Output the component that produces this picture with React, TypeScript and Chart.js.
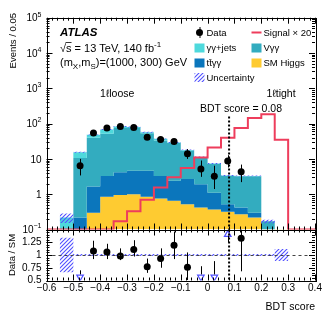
import React, { useEffect, useRef } from 'react';
import { Chart, registerables } from 'chart.js';

Chart.register(...registerables);

// ---------------- data ----------------
const xMin = -0.6;
const xMax = 0.4;
const binWidth = 0.05;
const cutValue = 0.08;

const smHiggs = [0, 0, 0, 0.3, 0.85, 0.95, 1.0, 0.85, 0.75, 0.65, 0.52, 0.42, 0.37, 0.32, 0.27, 0.22, 0, 0, 0, 0];
const ttyy = [0, 0, 0.22, 1.35, 2.45, 3.25, 3.6, 3.75, 2.55, 1.75, 2.18, 1.48, 0.73, 0.2, 0.15, 0.08, 0, 0, 0, 0];
const vyy = [0, 0, 10.3, 38.3, 48.7, 70.8, 70.4, 48.4, 29.7, 25.6, 14.3, 9.1, 6.1, 2.8, 2.8, 2.9, 0.17, 0, 0, 0];
const yyJets = [0, 0.22, 5.0, 8, 16, 8, 5, 4, 4, 1, 1, 0.3, 0.2, 0.08, 0.08, 0.1, 0, 0, 0, 0];
const signalX20 = [0, 0, 0, 0, 0, 0.17, 0.33, 0.7, 1.55, 3.0, 5.5, 11, 21, 40, 75, 145, 185, 35, 0, 0];
const uncRelMain = [0, 0.3, 0.03, 0.03, 0.03, 0.03, 0.03, 0.03, 0.03, 0.03, 0.03, 0.03, 0.03, 0.03, 0.03, 0.03, 0.12, 0, 0, 0];

const dataValues = [null, null, 6.4, 54, 75, 83, 77, 41, 35.5, 31, 14, 5.2, 3.2, 8.7, 4.3, null, null, null, null, null];
const dataErrDown = [0, 0, 3.0, 7, 8.5, 9, 8.5, 6.4, 6, 5.5, 4, 2.1, 1.8, 3, 2.1, 0, 0, 0, 0, 0];
const dataErrUp = [0, 0, 3.6, 7, 8.5, 9, 8.5, 6.4, 6, 5.5, 5, 3.8, 3.2, 4, 2.6, 0, 0, 0, 0, 0];

const ratioValues = [null, null, null, 1.08, 1.06, 0.98, 1.11, 0.77, 0.93, 1.19, 0.76, null, null, null, 1.33, null, null, null, null, null];
const ratioLow = [null, null, 0.62, 0.92, 0.92, 0.9, 0.97, 0.65, 0.75, 0.92, 0.51, 0.62, 0.62, 1.25, 0.68, null, null, null, null, null];
const ratioHigh = [null, null, 0.7, 1.28, 1.22, 1.13, 1.29, 0.93, 1.13, 1.46, 1.05, 0.78, 0.88, 1.38, 1.5, null, null, null, null, null];
const ratioArrows = [0, 0, -1, 0, 0, 0, 0, 0, 0, 0, 0, -1, -1, 1, 0, 0, 0, 0, 0, 0];
const ratioUnc = [0, 0.34, 0.02, 0.02, 0.02, 0.02, 0.02, 0.02, 0.02, 0.02, 0.02, 0.02, 0.02, 0.02, 0.02, 0.02, 0.02, 0.12, 0, 0];

const yMainTicks = [0.1, 1, 10, 100, 1000, 10000, 100000];
const yMainLabelBase = ['10', '1', '10', '10', '10', '10', '10'];
const yMainLabelExp = ['\u22121', '', '', '2', '3', '4', '5'];
const xTicks = [-0.6, -0.5, -0.4, -0.3, -0.2, -0.1, 0, 0.1, 0.2, 0.3, 0.4];
const xTickLabels = ['\u22120.6', '\u22120.5', '\u22120.4', '\u22120.3', '\u22120.2', '\u22120.1', '0', '0.1', '0.2', '0.3', '0.4'];
const yRatioTicks = [0.5, 0.75, 1, 1.25];
const yRatioLabels = ['0.5', '0.75', '1', '1.25'];

// ---------------- style ----------------
const FONT = '"Liberation Sans", Arial, Helvetica, sans-serif';
const C_JETS = '#4ed9dc';
const C_VYY = '#33acbf';
const C_TT = '#0b76bc';
const C_HIGGS = '#fecb31';
const C_SIG = '#ee3d5c';
const C_UNC = '#5050ff';
const TICK_SIZE = 10;

const nBins = smHiggs.length;
const edges = Array.from({ length: nBins + 1 }, (_, i) => xMin + i * binWidth);
const centers = edges.slice(0, nBins).map((e) => e + binWidth / 2);

function stepData(vals: number[], floor: number) {
  const pts = vals.map((v, i) => ({ x: edges[i], y: Math.max(v, floor) }));
  pts.push({ x: edges[nBins], y: Math.max(vals[nBins - 1], floor) });
  return pts;
}

function makeHatch(color: string) {
  const s = 4;
  const c = document.createElement('canvas');
  c.width = s;
  c.height = s;
  const g = c.getContext('2d')!;
  g.strokeStyle = color;
  g.lineWidth = 1.1;
  g.beginPath();
  g.moveTo(0, s);
  g.lineTo(s, 0);
  g.moveTo(-s / 2, s / 2);
  g.lineTo(s / 2, -s / 2);
  g.moveTo(s / 2, s * 1.5);
  g.lineTo(s * 1.5, s / 2);
  g.stroke();
  return g.createPattern(c, 'repeat')!;
}

type Part = [string, number];
function drawRich(ctx: CanvasRenderingContext2D, parts: Part[], x: number, y: number, size: number, style = '', align = 'left') {
  const fontFor = (k: number) => `${style} ${k === 0 ? size : Math.round(size * 0.72)}px ${FONT}`;
  let total = 0;
  const widths = parts.map(([t, k]) => {
    ctx.font = fontFor(k);
    const w = ctx.measureText(t).width;
    total += w;
    return w;
  });
  let cx = align === 'left' ? x : align === 'center' ? x - total / 2 : x - total;
  ctx.textAlign = 'left';
  ctx.textBaseline = 'alphabetic';
  parts.forEach(([t, k], i) => {
    ctx.font = fontFor(k);
    ctx.fillText(t, cx, y + (k === 1 ? -size * 0.42 : k === -1 ? size * 0.25 : 0));
    cx += widths[i];
  });
  return total;
}

function drawFrameTicks(chart: any, yMajor: number[], yMinor: number[]) {
  const { ctx, chartArea: a, scales } = chart;
  const x = scales.x;
  const y = scales.y;
  ctx.save();
  ctx.strokeStyle = '#000';
  ctx.lineWidth = 1;
  ctx.beginPath();
  const majL = 6;
  const minL = 3;
  for (let k = 0; k <= 50; k++) {
    const v = xMin + k * 0.02;
    const px = Math.round(x.getPixelForValue(v)) + 0.5;
    const L = k % 5 === 0 ? majL : minL;
    ctx.moveTo(px, a.bottom);
    ctx.lineTo(px, a.bottom - L);
    ctx.moveTo(px, a.top);
    ctx.lineTo(px, a.top + L);
  }
  const tickY = (v: number, L: number) => {
    const py = Math.round(y.getPixelForValue(v)) + 0.5;
    ctx.moveTo(a.left, py);
    ctx.lineTo(a.left + L, py);
    ctx.moveTo(a.right, py);
    ctx.lineTo(a.right - L, py);
  };
  yMajor.forEach((v) => tickY(v, majL));
  yMinor.forEach((v) => tickY(v, minL));
  ctx.stroke();
  ctx.strokeRect(Math.round(a.left) + 0.5, Math.round(a.top) + 0.5, Math.round(a.right - a.left), Math.round(a.bottom - a.top));
  ctx.restore();
}

function drawCut(chart: any, yTopVal: number | null) {
  const { ctx, chartArea: a, scales } = chart;
  const px = scales.x.getPixelForValue(cutValue);
  const top = yTopVal === null ? a.top : scales.y.getPixelForValue(yTopVal);
  ctx.save();
  ctx.strokeStyle = '#000';
  ctx.lineWidth = 2;
  ctx.setLineDash([2, 2]);
  ctx.beginPath();
  ctx.moveTo(px, top);
  ctx.lineTo(px, a.bottom);
  ctx.stroke();
  ctx.restore();
}

function drawErrBars(chart: any, lo: (number | null)[], hi: (number | null)[]) {
  const { ctx, chartArea: a, scales } = chart;
  ctx.save();
  ctx.beginPath();
  ctx.rect(a.left, a.top, a.right - a.left, a.bottom - a.top);
  ctx.clip();
  ctx.strokeStyle = '#000';
  ctx.lineWidth = 1;
  ctx.beginPath();
  centers.forEach((c, i) => {
    if (lo[i] === null || hi[i] === null) return;
    const px = Math.round(scales.x.getPixelForValue(c)) + 0.5;
    ctx.moveTo(px, scales.y.getPixelForValue(lo[i]));
    ctx.lineTo(px, scales.y.getPixelForValue(hi[i]));
  });
  ctx.stroke();
  ctx.restore();
}

export default function App() {
  const mainRef = useRef<HTMLCanvasElement>(null);
  const ratioRef = useRef<HTMLCanvasElement>(null);

  useEffect(() => {
    const hatch = makeHatch(C_UNC);
    const floor = 1e-4;
    const cH = smHiggs;
    const cT = cH.map((v, i) => v + ttyy[i]);
    const cV = cT.map((v, i) => v + vyy[i]);
    const cJ = cV.map((v, i) => v + yyJets[i]);
    const uncUp = cJ.map((v, i) => (v > 0 ? v * (1 + uncRelMain[i]) : 0));
    const uncDn = cJ.map((v, i) => (v > 0 ? v * (1 - uncRelMain[i]) : 0));

    const dataPts = centers
      .map((c, i) => ({ x: c, y: dataValues[i] }))
      .filter((p) => p.y !== null);
    const dLo = dataValues.map((v, i) => (v === null ? null : v - dataErrDown[i]));
    const dHi = dataValues.map((v, i) => (v === null ? null : v + dataErrUp[i]));

    const yMinor: number[] = [];
    for (let d = -1; d < 5; d++) for (let k = 2; k <= 9; k++) yMinor.push(k * Math.pow(10, d));

    const lineBase = { stepped: true, pointRadius: 0, borderWidth: 0, borderColor: 'transparent' };

    const mainPlugin = {
      id: 'mainDeco',
      afterDatasetsDraw(chart: any) {
        drawErrBars(chart, dLo, dHi);
      },
      afterDraw(chart: any) {
        const { ctx, scales } = chart;
        drawFrameTicks(chart, yMainTicks, yMinor);
        drawCut(chart, 160);
        ctx.save();
        ctx.fillStyle = '#000';
        // y tick labels (10^n) at the library's tick positions
        scales.y.ticks.forEach((t: any, i: number) => {
          const py = scales.y.getPixelForValue(t.value);
          const base = yMainLabelBase[i];
          const exp = yMainLabelExp[i];
          ctx.font = `${TICK_SIZE}px ${FONT}`;
          const wb = ctx.measureText(base).width;
          ctx.font = `${Math.round(TICK_SIZE * 0.72)}px ${FONT}`;
          const we = exp ? ctx.measureText(exp).width : 0;
          const right = 41.5;
          ctx.font = `${TICK_SIZE}px ${FONT}`;
          ctx.textBaseline = 'alphabetic';
          ctx.textAlign = 'left';
          ctx.fillText(base, right - we - wb, py + 3.6);
          if (exp) {
            ctx.font = `${Math.round(TICK_SIZE * 0.72)}px ${FONT}`;
            ctx.fillText(exp, right - we, py - 1.2);
          }
        });
        // y title
        ctx.save();
        ctx.translate(13, 13);
        ctx.rotate(-Math.PI / 2);
        ctx.font = `9.5px ${FONT}`;
        ctx.textAlign = 'right';
        ctx.textBaseline = 'middle';
        ctx.fillText('Events / 0.05', 0, 0);
        ctx.restore();
        // labels
        drawRich(ctx, [['ATLAS', 0]], 60, 35.5, 11.5, 'italic bold');
        const w0 = drawRich(ctx, [['\u221As', 0]], 60, 51.5, 11);
        ctx.font = `11px ${FONT}`;
        const wsq = ctx.measureText('\u221A').width;
        ctx.beginPath();
        ctx.strokeStyle = '#000';
        ctx.lineWidth = 0.8;
        ctx.moveTo(60 + wsq - 0.5, 42.5);
        ctx.lineTo(60 + w0, 42.5);
        ctx.stroke();
        drawRich(ctx, [[' = 13 TeV, 140 fb', 0], ['-1', 1]], 60 + w0, 51.5, 11);
        drawRich(ctx, [['(m', 0], ['X', -1], [',m', 0], ['S', -1], [')=(1000, 300) GeV', 0]], 60, 66, 11);
        drawRich(ctx, [['1\u2113loose', 0]], 100, 96.5, 10.5);
        drawRich(ctx, [['1\u2113tight', 0]], 266.5, 96.5, 10.5);
        drawRich(ctx, [['BDT score = 0.08', 0]], 200, 112, 10.5);

        // legend
        const ly = [32.5, 48, 63, 77.5];
        const lx1 = 194.5;
        const lx2 = 251.5;
        const bw = 10;
        const bh = 9;
        ctx.beginPath();
        ctx.arc(lx1 + 5, ly[0], 3.5, 0, Math.PI * 2);
        ctx.fill();
        ctx.beginPath();
        ctx.lineWidth = 1;
        ctx.moveTo(lx1 + 5.5, ly[0] - 5.5);
        ctx.lineTo(lx1 + 5.5, ly[0] + 5.5);
        ctx.stroke();
        ctx.beginPath();
        ctx.strokeStyle = C_SIG;
        ctx.lineWidth = 2;
        ctx.moveTo(lx2, ly[0]);
        ctx.lineTo(lx2 + bw, ly[0]);
        ctx.stroke();
        const box = (x: number, y: number, col: any) => {
          ctx.fillStyle = col;
          ctx.fillRect(x, y - bh / 2, bw, bh);
        };
        box(lx1, ly[1], C_JETS);
        box(lx2, ly[1], C_VYY);
        box(lx1, ly[2], C_TT);
        box(lx2, ly[2], C_HIGGS);
        box(lx1, ly[3], hatch);
        ctx.fillStyle = '#000';
        const lt = (t: string, x: number, y: number) => drawRich(ctx, [[t, 0]], x, y + 3.4, 9.5);
        lt('Data', lx1 + 12, ly[0]);
        lt('Signal \u00D7 20', lx2 + 12, ly[0]);
        lt('\u03B3\u03B3+jets', lx1 + 12, ly[1]);
        lt('V\u03B3\u03B3', lx2 + 12, ly[1]);
        lt('tt\u0304\u03B3\u03B3', lx1 + 12, ly[2]);
        lt('SM Higgs', lx2 + 12, ly[2]);
        lt('Uncertainty', lx1 + 12, ly[3]);
        ctx.restore();
      },
    };

    const main = new Chart(mainRef.current!, {
      type: 'line',
      data: {
        datasets: [
          { type: 'scatter', data: dataPts, pointRadius: 3.5, pointBackgroundColor: '#000', pointBorderWidth: 0, showLine: false } as any,
          { ...lineBase, data: stepData(signalX20, 0.1), borderColor: C_SIG, borderWidth: 2, fill: false },
          { ...lineBase, data: stepData(uncDn, floor), fill: 3, backgroundColor: hatch },
          { ...lineBase, data: stepData(uncUp, floor), fill: false },
          { ...lineBase, data: stepData(cJ, floor), fill: 5, backgroundColor: C_JETS },
          { ...lineBase, data: stepData(cV, floor), fill: 6, backgroundColor: C_VYY },
          { ...lineBase, data: stepData(cT, floor), fill: 7, backgroundColor: C_TT },
          { ...lineBase, data: stepData(cH, floor), fill: 'start', backgroundColor: C_HIGGS },
        ],
      },
      options: {
        responsive: false,
        devicePixelRatio: 1,
        animation: false,
        events: [],
        layout: { padding: { left: 0, right: 17, top: 17.7, bottom: 89.5 } },
        plugins: { legend: { display: false }, tooltip: { enabled: false } },
        scales: {
          x: { type: 'linear', min: xMin, max: xMax, display: false },
          y: {
            type: 'logarithmic',
            min: 0.1,
            max: 1e5,
            afterBuildTicks: (s: any) => {
              s.ticks = yMainTicks.map((v) => ({ value: v }));
            },
            afterFit: (s: any) => {
              s.width = 46.5;
            },
            ticks: { display: false },
            grid: { display: false, drawTicks: false },
            border: { display: false },
          },
        },
      } as any,
      plugins: [mainPlugin],
    });

    // ratio
    const rUp = ratioUnc.map((u) => 1 + u);
    const rDn = ratioUnc.map((u) => 1 - u);
    const rPts = centers.map((c, i) => ({ x: c, y: ratioValues[i] })).filter((p) => p.y !== null);
    const arrowPts = centers
      .map((c, i) => ({ x: c, y: ratioArrows[i] === 0 ? null : ratioArrows[i] < 0 ? 0.569 : 1.402, dir: ratioArrows[i] }))
      .filter((p) => p.y !== null);
    const rMinor: number[] = [];
    for (let k = 0; k <= 20; k++) rMinor.push(0.5 + k * 0.05);

    const ratioPlugin = {
      id: 'ratioDeco',
      afterDatasetsDraw(chart: any) {
        const { ctx, chartArea: a, scales } = chart;
        const py = scales.y.getPixelForValue(1);
        ctx.save();
        ctx.strokeStyle = '#444';
        ctx.lineWidth = 1;
        ctx.setLineDash([3, 3]);
        ctx.beginPath();
        ctx.moveTo(a.left, Math.round(py) + 0.5);
        ctx.lineTo(a.right, Math.round(py) + 0.5);
        ctx.stroke();
        ctx.restore();
        drawErrBars(chart, ratioLow, ratioHigh);
      },
      afterDraw(chart: any) {
        drawFrameTicks(chart, yRatioTicks.concat([1.5]), rMinor);
        drawCut(chart, null);
      },
    };

    const ratio = new Chart(ratioRef.current!, {
      type: 'line',
      data: {
        datasets: [
          { type: 'scatter', data: rPts, pointRadius: 3.5, pointBackgroundColor: '#000', pointBorderWidth: 0, showLine: false } as any,
          {
            type: 'scatter',
            data: arrowPts,
            pointStyle: 'triangle',
            pointRadius: 3.8,
            pointRotation: (c: any) => (c.raw && c.raw.dir < 0 ? 180 : 0),
            pointBackgroundColor: '#fff',
            pointBorderColor: C_UNC,
            pointBorderWidth: 1.2,
            showLine: false,
          } as any,
          { ...lineBase, data: stepData(rDn, 0), fill: 3, backgroundColor: hatch },
          { ...lineBase, data: stepData(rUp, 0), fill: false },
        ],
      },
      options: {
        responsive: false,
        devicePixelRatio: 1,
        animation: false,
        events: [],
        layout: { padding: { left: 0, right: 17, top: 229.5, bottom: 0 } },
        plugins: { legend: { display: false }, tooltip: { enabled: false } },
        scales: {
          x: {
            type: 'linear',
            min: xMin,
            max: xMax,
            afterBuildTicks: (s: any) => {
              s.ticks = xTicks.map((v) => ({ value: v }));
            },
            afterFit: (s: any) => {
              s.height = 38.5;
            },
            ticks: {
              callback: (_v: any, i: number) => xTickLabels[i],
              font: { family: FONT, size: TICK_SIZE },
              color: '#000',
              padding: 2,
              autoSkip: false,
              maxRotation: 0,
            },
            grid: { display: false, drawTicks: false },
            border: { display: false },
            title: { display: true, text: 'BDT score', align: 'end', color: '#000', font: { family: FONT, size: 10.5 }, padding: { top: 0, bottom: 6 } },
          },
          y: {
            type: 'linear',
            min: 0.5,
            max: 1.5,
            afterBuildTicks: (s: any) => {
              s.ticks = yRatioTicks.map((v) => ({ value: v }));
            },
            afterFit: (s: any) => {
              s.width = 46.5;
            },
            ticks: {
              callback: (_v: any, i: number) => yRatioLabels[i],
              font: { family: FONT, size: TICK_SIZE },
              color: '#000',
              padding: 5,
              autoSkip: false,
            },
            grid: { display: false, drawTicks: false },
            border: { display: false },
            title: { display: true, text: 'Data / SM', align: 'center', color: '#000', font: { family: FONT, size: 9.5 }, padding: { top: 7, bottom: 0 } },
          },
        },
      } as any,
      plugins: [ratioPlugin],
    });

    return () => {
      main.destroy();
      ratio.destroy();
    };
  }, []);

  return (
    <div style={{ position: 'fixed', left: 0, top: 0, width: 332, height: 319, background: '#fff' }}>
      <canvas ref={mainRef} width={332} height={319} style={{ position: 'absolute', left: 0, top: 0 }} />
      <canvas ref={ratioRef} width={332} height={319} style={{ position: 'absolute', left: 0, top: 0 }} />
    </div>
  );
}
